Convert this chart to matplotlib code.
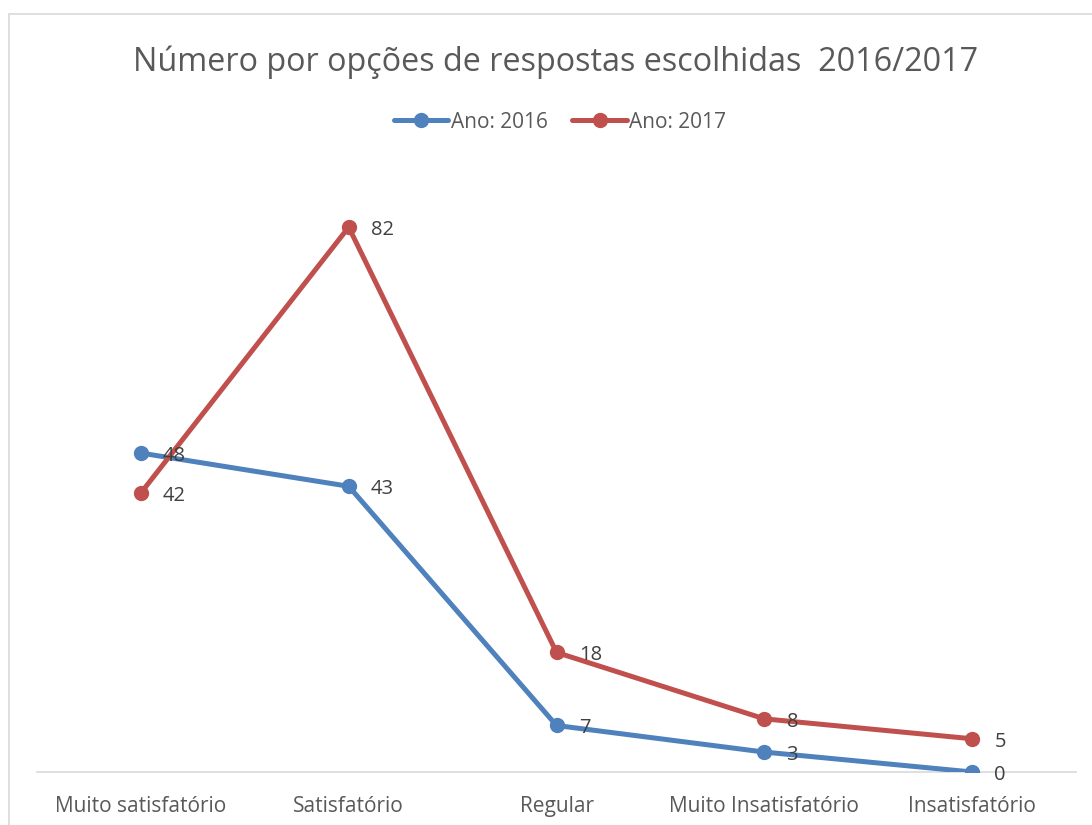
import matplotlib.pyplot as plt
from matplotlib.patches import Rectangle

categories = ['Muito satisfatório', 'Satisfatório', 'Regular',
              'Muito Insatisfatório', 'Insatisfatório']
values_2016 = [48, 43, 7, 3, 0]
values_2017 = [42, 82, 18, 8, 5]

blue = '#4F81BD'
red = '#C0504D'
text_color = '#595959'
font = 'Open Sans'

W, H = 1092, 825
fig = plt.figure(figsize=(W / 100, H / 100), dpi=100)

# chart border (cropped at right/bottom like the screenshot)
fig.patches.append(Rectangle((9 / W, -0.05), 1.2, (825 - 14) / H + 0.05,
                             transform=fig.transFigure, fill=False,
                             edgecolor='#D9D9D9', linewidth=1.2))

ax = fig.add_axes([37 / W, (H - 772) / H, (1076 - 37) / W, (772 - 174) / H])
x = range(len(categories))

ax.plot(x, values_2016, color=blue, linewidth=3.6, marker='o', markersize=10,
        label='Ano: 2016', solid_capstyle='round', zorder=3)
ax.plot(x, values_2017, color=red, linewidth=3.6, marker='o', markersize=10,
        label='Ano: 2017', solid_capstyle='round', zorder=3)

for xi, v in zip(x, values_2016):
    ax.annotate(str(v), (xi, v), xytext=(16, -2), textcoords='offset points',
                va='center', ha='left', fontsize=14.5, color='#404040',
                family=font, zorder=4)
for xi, v in zip(x, values_2017):
    ax.annotate(str(v), (xi, v), xytext=(16, -2), textcoords='offset points',
                va='center', ha='left', fontsize=14.5, color='#404040',
                family=font, zorder=4)

ax.set_xlim(-0.5, len(categories) - 0.5)
ax.set_ylim(0, 90)
ax.set_xticks(list(x))
ax.set_xticklabels(categories, fontsize=15, color=text_color, family=font)
ax.tick_params(axis='x', length=0, pad=17)
ax.set_yticks([])
for side in ['top', 'right', 'left']:
    ax.spines[side].set_visible(False)
ax.spines['bottom'].set_color('#D9D9D9')
ax.spines['bottom'].set_linewidth(1.2)
ax.spines['bottom'].set_zorder(1)

fig.text(556 / W, (H - 62) / H, 'Número por opções de respostas escolhidas  2016/2017',
         ha='center', va='center', fontsize=23.3, color=text_color, family=font)

leg = fig.legend(loc='center', bbox_to_anchor=(560 / W, (H - 122) / H), ncol=2,
                 frameon=False, prop={'family': font, 'size': 15},
                 handlelength=2.6, columnspacing=1.2, handletextpad=0.1)
for t in leg.get_texts():
    t.set_color(text_color)

fig.savefig('out.png', dpi=100)
